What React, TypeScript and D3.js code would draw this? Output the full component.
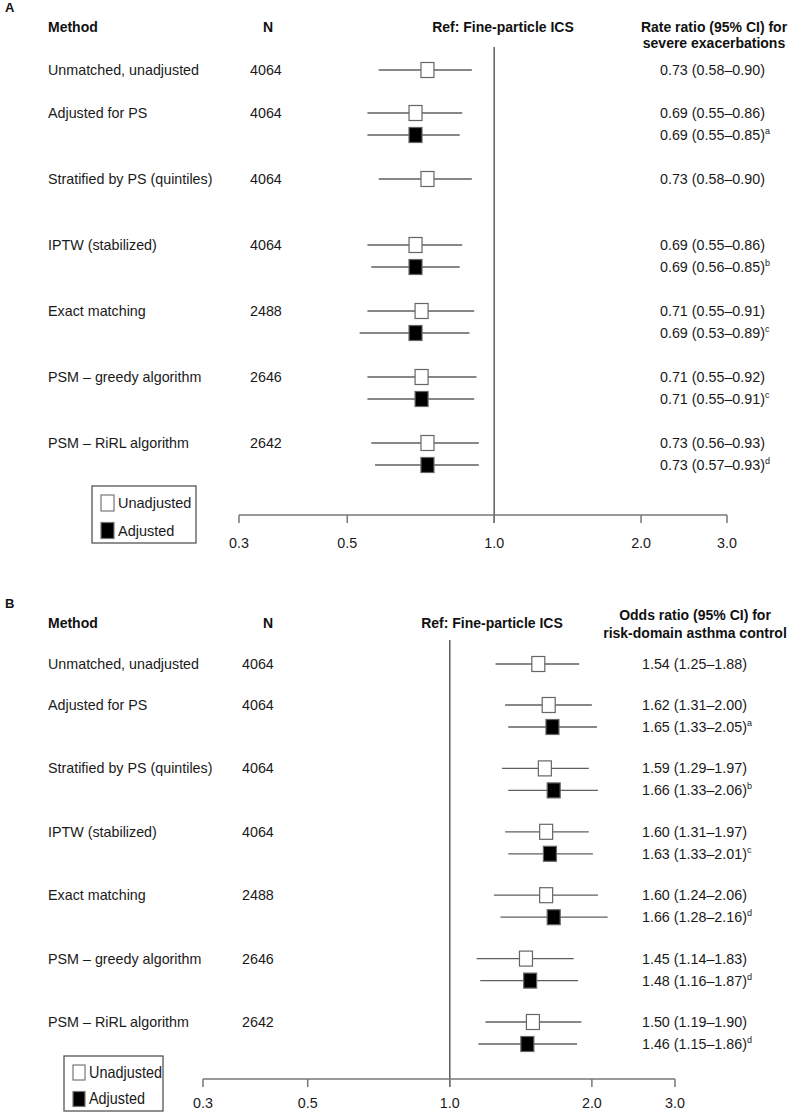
import React from "react";
import * as d3 from "d3";

// ---------- Data ----------
const methods = [
  "Unmatched, unadjusted",
  "Adjusted for PS",
  "Stratified by PS (quintiles)",
  "IPTW (stabilized)",
  "Exact matching",
  "PSM – greedy algorithm",
  "PSM – RiRL algorithm",
];
const sampleN = ["4064", "4064", "4064", "4064", "2488", "2646", "2642"];

// Panel A: rate ratio for severe exacerbations [estimate, lower, upper]
const unadjA: number[][] = [
  [0.73, 0.58, 0.9],
  [0.69, 0.55, 0.86],
  [0.73, 0.58, 0.9],
  [0.69, 0.55, 0.86],
  [0.71, 0.55, 0.91],
  [0.71, 0.55, 0.92],
  [0.73, 0.56, 0.93],
];
const adjA: (number[] | null)[] = [
  null,
  [0.69, 0.55, 0.85],
  null,
  [0.69, 0.56, 0.85],
  [0.69, 0.53, 0.89],
  [0.71, 0.55, 0.91],
  [0.73, 0.57, 0.93],
];
const supA = ["", "a", "", "b", "c", "c", "d"];

// Panel B: odds ratio for risk-domain asthma control
const unadjB: number[][] = [
  [1.54, 1.25, 1.88],
  [1.62, 1.31, 2.0],
  [1.59, 1.29, 1.97],
  [1.6, 1.31, 1.97],
  [1.6, 1.24, 2.06],
  [1.45, 1.14, 1.83],
  [1.5, 1.19, 1.9],
];
const adjB: (number[] | null)[] = [
  null,
  [1.65, 1.33, 2.05],
  [1.66, 1.33, 2.06],
  [1.63, 1.33, 2.01],
  [1.66, 1.28, 2.16],
  [1.48, 1.16, 1.87],
  [1.46, 1.15, 1.86],
];
const supB = ["", "a", "b", "c", "d", "d", "d"];

const tickValues = [0.3, 0.5, 1.0, 2.0, 3.0];
const refLabel = "Ref: Fine-particle ICS";
const legendLabels = ["Unadjusted", "Adjusted"];

// ---------- Styling ----------
const FONT = "'Liberation Sans', Arial, Helvetica, sans-serif";

type PanelCfg = {
  letter: string;
  top: number;
  unadj: number[][];
  adj: (number[] | null)[];
  sup: string[];
  title: string[];
  titleX: number;
  titleY: number[];
  refX: number;
  xLeft: number;
  xRight: number;
  row0: number;
  row1: number;
  rowLast: number;
  lineTop: number;
  axisY: number;
  tickLabelDy: number;
  nX: number;
  valueX: number;
  legend: { x: number; y: number; w: number; h: number; sw: number; sh: number; size: number; lens: number[] | null };
};

const fmt = (v: number[]) => `${v[0].toFixed(2)} (${v[1].toFixed(2)}–${v[2].toFixed(2)})`;

function Panel({ c }: { c: PanelCfg }) {
  const x = d3.scaleLog().domain([0.3, 3.0]).range([c.xLeft, c.xRight]);
  const yg = d3.scaleLinear().domain([1, 6]).range([c.row1, c.rowLast]);
  const groupY = (i: number) => (i === 0 ? c.row0 : yg(i));
  const subGap = 22;
  const bw = 13,
    bh = 15;

  const drawRow = (v: number[], y: number, filled: boolean, key: string) => (
    <g key={key}>
      <line x1={x(v[1])} x2={x(v[2])} y1={y} y2={y} stroke="#5f5f5f" strokeWidth={1.3} />
      <rect
        x={x(v[0]) - bw / 2}
        y={y - bh / 2}
        width={bw}
        height={bh}
        fill={filled ? "#000" : "#fff"}
        stroke="#666"
        strokeWidth={1.2}
      />
    </g>
  );

  return (
    <g fontFamily={FONT}>
      <text x={5} y={c.top - 15} fontSize={13} fontWeight="bold" fill="#111">
        {c.letter}
      </text>
      <text x={48} y={c.top + 5} fontSize={14} fontWeight="bold" fill="#111">
        Method
      </text>
      <text x={268} y={c.top + 5} fontSize={14} fontWeight="bold" fill="#111" textAnchor="middle">
        N
      </text>
      <text x={c.refX} y={c.top + 5} fontSize={14} fontWeight="bold" fill="#111" textAnchor="middle">
        {refLabel}
      </text>
      {c.title.map((t, i) => (
        <text key={t} x={c.titleX} y={c.titleY[i] + 5} fontSize={14} fontWeight="bold" fill="#111" textAnchor="middle">
          {t}
        </text>
      ))}
      <line x1={x(1)} x2={x(1)} y1={c.lineTop} y2={c.axisY + 8} stroke="#444" strokeWidth={1.3} />
      {methods.map((m, i) => {
        const y = groupY(i);
        const a = c.adj[i];
        return (
          <g key={m}>
            <text x={48} y={y + 5} fontSize={14.3} fill="#1a1a1a">
              {m}
            </text>
            <text x={c.nX} y={y + 5} fontSize={14.3} fill="#1a1a1a">
              {sampleN[i]}
            </text>
            {drawRow(c.unadj[i], y, false, "u")}
            <text x={c.valueX} y={y + 5} fontSize={14.3} fill="#1a1a1a">
              {fmt(c.unadj[i])}
            </text>
            {a && drawRow(a, y + subGap, true, "a")}
            {a && (
              <text x={c.valueX} y={y + subGap + 5} fontSize={14.3} fill="#1a1a1a">
                {fmt(a)}
                <tspan fontSize={9} dy={-6}>
                  {c.sup[i]}
                </tspan>
              </text>
            )}
          </g>
        );
      })}
      <line x1={x(0.3)} x2={x(3.0)} y1={c.axisY} y2={c.axisY} stroke="#777" strokeWidth={1.5} />
      {tickValues.map((t) => (
        <g key={t}>
          <line x1={x(t)} x2={x(t)} y1={c.axisY} y2={c.axisY + 8} stroke="#777" strokeWidth={1.5} />
          <text x={x(t)} y={c.axisY + c.tickLabelDy} fontSize={14.3} textAnchor="middle" fill="#1a1a1a">
            {t.toFixed(1)}
          </text>
        </g>
      ))}
      <g>
        <rect x={c.legend.x} y={c.legend.y} width={c.legend.w} height={c.legend.h} fill="#fff" stroke="#555" strokeWidth={1.3} />
        {legendLabels.map((l, i) => {
          const sy = c.legend.y + 9 + i * (c.legend.h / 2 - 1);
          const lens = c.legend.lens;
          return (
            <g key={l}>
              <rect
                x={c.legend.x + 9}
                y={sy}
                width={c.legend.sw}
                height={c.legend.sh}
                fill={i === 0 ? "#fff" : "#000"}
                stroke="#777"
                strokeWidth={1.2}
              />
              <text
                x={c.legend.x + 9 + c.legend.sw + 4}
                y={sy + c.legend.sh / 2 + 5}
                fontSize={c.legend.size}
                fill="#1a1a1a"
                textLength={lens ? lens[i] : undefined}
                lengthAdjust={lens ? "spacingAndGlyphs" : undefined}
              >
                {l}
              </text>
            </g>
          );
        })}
      </g>
    </g>
  );
}

const panelA: PanelCfg = {
  letter: "A",
  top: 27,
  unadj: unadjA,
  adj: adjA,
  sup: supA,
  title: ["Rate ratio (95% CI) for", "severe exacerbations"],
  titleX: 714,
  titleY: [27, 43],
  refX: 503,
  xLeft: 239,
  xRight: 727,
  row0: 70,
  row1: 113,
  rowLast: 443,
  lineTop: 47,
  axisY: 515,
  tickLabelDy: 33,
  nX: 250,
  valueX: 660,
  legend: { x: 92, y: 486, w: 104, h: 57, sw: 13, sh: 16, size: 14.5, lens: null },
};

const panelB: PanelCfg = {
  letter: "B",
  top: 623,
  unadj: unadjB,
  adj: adjB,
  sup: supB,
  title: ["Odds ratio (95% CI) for", "risk-domain asthma control"],
  titleX: 695,
  titleY: [615, 633],
  refX: 492,
  xLeft: 203,
  xRight: 675,
  row0: 664,
  row1: 705,
  rowLast: 1022,
  lineTop: 640,
  axisY: 1079,
  tickLabelDy: 29,
  nX: 242,
  valueX: 642,
  legend: { x: 64, y: 1056, w: 99, h: 55, sw: 12, sh: 15, size: 16.5, lens: [73, 56] },
};

export default function App() {
  return (
    <svg
      width={789}
      height={1113}
      viewBox="0 0 789 1113"
      style={{ position: "absolute", left: 0, top: 0, background: "#fff" }}
    >
      <rect width={789} height={1113} fill="#fff" />
      <Panel c={panelA} />
      <Panel c={panelB} />
    </svg>
  );
}
